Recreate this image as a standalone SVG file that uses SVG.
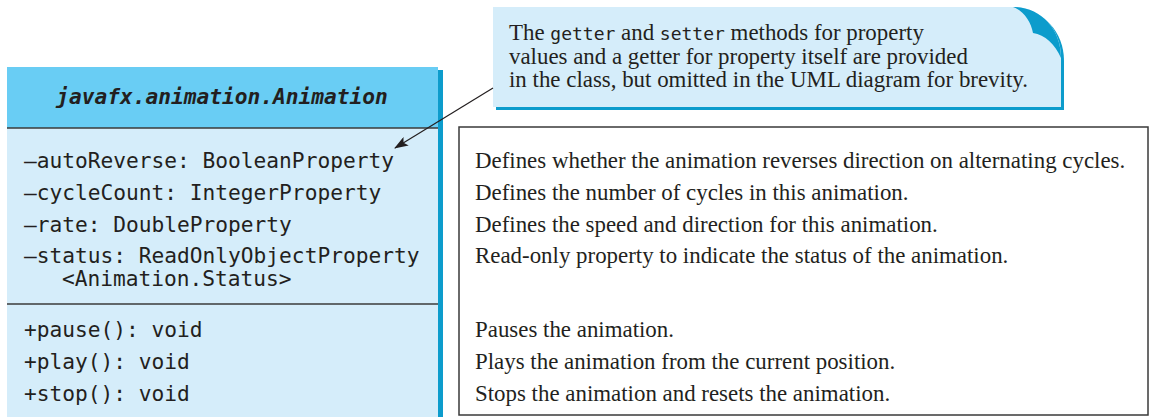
<svg xmlns="http://www.w3.org/2000/svg" width="1150" height="417" viewBox="0 0 1150 417">
<style>
.mono{font-family:"DejaVu Sans Mono",monospace;font-size:21.2px;fill:#231f20}
.hdr{font-family:"DejaVu Sans Mono",monospace;font-size:21.2px;font-weight:bold;font-style:italic;fill:#231f20}
.serif{font-family:"Liberation Serif","Times New Roman",serif;font-size:22.9px;fill:#231f20}
.cm{font-family:"DejaVu Sans Mono",monospace;font-size:18px}
.div{stroke:#3a3a3a;stroke-width:1.6}
</style>
<defs>
<marker id="ah" viewBox="0 0 14 10" refX="13" refY="5" markerWidth="14" markerHeight="10" markerUnits="userSpaceOnUse" orient="auto">
<path d="M0,0 L14,5 L0,10 L3,5 Z" fill="#231f20"/>
</marker>
</defs>
<g id="class-animation">
<rect x="10" y="70" width="433" height="350" fill="#0c9ccc"/>
<rect x="7" y="67" width="431" height="350" fill="#d5edfa"/>
<rect x="7" y="67" width="431" height="61" fill="#69cdf4"/>
<line class="div" x1="7" y1="128" x2="438" y2="128"/>
<line class="div" x1="7" y1="304" x2="438" y2="304"/>
<text class="hdr" x="222" y="104" text-anchor="middle">javafx.animation.Animation</text>
<text class="mono" x="24" y="168">–autoReverse: BooleanProperty</text>
<text class="mono" x="24" y="200">–cycleCount: IntegerProperty</text>
<text class="mono" x="24" y="232">–rate: DoubleProperty</text>
<text class="mono" x="24" y="263">–status: ReadOnlyObjectProperty</text>
<text class="mono" x="62" y="286">&lt;Animation.Status&gt;</text>
<text class="mono" x="24" y="337">+pause(): void</text>
<text class="mono" x="24" y="369">+play(): void</text>
<text class="mono" x="24" y="401">+stop(): void</text>
</g>
<g id="note">
<path d="M496,10 H1016 C1043,10 1064,31 1064,61 V110 H496 Z" fill="#0c9ccc"/>
<path d="M493,7 H1013 C1040,7 1061,28 1061,58 V107 H493 Z" fill="#d5edfa"/>
<path d="M1013,7 C1040,7 1061,28 1061,58 C1055,44 1045,35 1033,33 C1031,22 1024,11 1013,7 Z" fill="#0c9ccc"/>
<text class="serif" x="509" y="40">The <tspan class="cm">getter</tspan> and <tspan class="cm">setter</tspan> methods for property</text>
<text class="serif" x="509" y="63.5">values and a getter for property itself are provided</text>
<text class="serif" x="509" y="87">in the class, but omitted in the UML diagram for brevity.</text>
</g>
<g id="descriptions">
<rect x="459" y="127" width="689" height="288" fill="#ffffff" stroke="#3a3a3a" stroke-width="1.5"/>
<text class="serif" x="475" y="168">Defines whether the animation reverses direction on alternating cycles.</text>
<text class="serif" x="475" y="200">Defines the number of cycles in this animation.</text>
<text class="serif" x="475" y="232">Defines the speed and direction for this animation.</text>
<text class="serif" x="475" y="263">Read-only property to indicate the status of the animation.</text>
<text class="serif" x="475" y="337">Pauses the animation.</text>
<text class="serif" x="475" y="369">Plays the animation from the current position.</text>
<text class="serif" x="475" y="401">Stops the animation and resets the animation.</text>
</g>
<g id="connectors">
<line x1="493" y1="88" x2="395" y2="148" stroke="#231f20" stroke-width="1.2" marker-end="url(#ah)"/>
</g>
</svg>
